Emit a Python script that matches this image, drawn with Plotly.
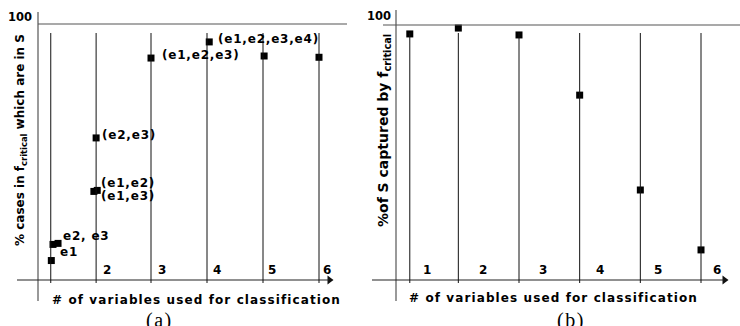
import plotly.graph_objects as go

# ---------------- data ----------------
# panel (a): % cases in f_critical which are in S
a_vars = [1.22, 1.25, 1.34, 1.98, 2.04, 2.02, 3.0, 4.04, 5.02, 6.0]
a_pct = [7.6, 13.9, 14.3, 34.6, 35.0, 55.5, 86.7, 93.0, 87.5, 87.0]
a_labels = ["(e1,e2,e3,e4)", "(e1,e2,e3)", "(e2,e3)", "(e1,e2)", "(e1,e3)", "e2, e3", "e1"]
a_label_pt = [7, 6, 5, 4, 4, 2, 0]
a_grid = [1.21, 2.02, 3, 4, 5, 6]
a_ticks = ["2", "3", "4", "5", "6"]
a_tick_pos = [2.21, 3.2, 4.18, 5.16, 6.14]

# panel (b): % of S captured by f_critical
b_vars = [1.2, 2.0, 3.0, 4.0, 5.0, 6.0]
b_pct = [96.5, 98.8, 96.1, 72.5, 35.3, 11.8]
b_grid = [1.2, 2.0, 3, 4, 5, 6]
b_ticks = ["1", "2", "3", "4", "5", "6"]
b_tick_pos = [1.48, 2.41, 3.4, 4.34, 5.29, 6.26]

W, H = 740, 326
SANS = "DejaVu Sans"
SERIF = "Liberation Serif"


def pxa(px):
    return 3 + (px - 151) / 56.0


def pya(py):
    return (280 - py) / 2.56


def pxb(px):
    return 3 + (px - 519) / 60.67


def pyb(py):
    return (280 - py) / 2.55


def spaced(t, s):
    return '<span style="letter-spacing:%spx">%s</span>' % (s, t)


fig = go.Figure()
shapes = []
ann = []


def panel(xr, yr, fx, fy, grid, xs, ys, yaxis_top, yaxis_x, top_x0, top_x1, axis_x0, arrow_x, tick_pos, ticks):
    # axis frame lines
    shapes.append(dict(type="line", xref=xr, yref=yr, x0=fx(yaxis_x), x1=fx(yaxis_x),
                       y0=fy(yaxis_top), y1=fy(301), line=dict(color="#555", width=1.2)))
    shapes.append(dict(type="line", xref=xr, yref=yr, x0=fx(top_x0), x1=fx(top_x1),
                       y0=100, y1=100, line=dict(color="#555", width=1.2)))
    shapes.append(dict(type="line", xref=xr, yref=yr, x0=fx(axis_x0), x1=fx(arrow_x - 4),
                       y0=0, y1=0, line=dict(color="#222", width=1.2)))
    # grid (vertical) lines
    for g in grid:
        shapes.append(dict(type="line", xref=xr, yref=yr, x0=g, x1=g, y0=fy(33), y1=fy(283),
                           line=dict(color="#111", width=1)))
    # arrow head
    fig.add_trace(go.Scatter(x=[fx(arrow_x - 3.5)], y=[0], mode="markers", xaxis=xr, yaxis=yr,
                             marker=dict(symbol="triangle-right", size=8, color="#111", line=dict(width=0)),
                             hoverinfo="skip", showlegend=False))
    # data squares
    fig.add_trace(go.Scatter(x=xs, y=ys, mode="markers", xaxis=xr, yaxis=yr,
                             marker=dict(symbol="square", size=7, color="black", line=dict(width=0)),
                             showlegend=False))
    # tick labels
    for t, p in zip(ticks, tick_pos):
        ann.append(dict(xref=xr, yref=yr, x=p, y=fy(269.5), text="<b>%s</b>" % t, showarrow=False,
                        xanchor="center", yanchor="middle", font=dict(family=SANS, size=12, color="black")))


panel("x", "y", pxa, pya, a_grid, a_vars, a_pct, 12, 38, 38, 347, 17, 333, a_tick_pos, a_ticks)
panel("x2", "y2", pxb, pyb, b_grid, b_vars, b_pct, 10, 396, 383, 740, 372, 728, b_tick_pos, b_ticks)

# point labels in panel (a)
shifts = [(8, 3), (10, 3), (5, 3), (3, 7), (3, -6), (4, 7), (7.5, 8.5)]
for txt, i, (dx, dy) in zip(a_labels, a_label_pt, shifts):
    ann.append(dict(xref="x", yref="y", x=a_vars[i], y=a_pct[i], text="<b>%s</b>" % spaced(txt, 0.8),
                    showarrow=False, xanchor="left", yanchor="middle", xshift=dx, yshift=dy, borderpad=0,
                    font=dict(family=SANS, size=12, color="black")))


def paper(px, py):
    return px / W, 1 - py / H


# "100" labels
for (px, py) in [(34, 16.5), (393, 16)]:
    x, y = paper(px, py)
    ann.append(dict(xref="paper", yref="paper", x=x, y=y, text="<b>100</b>", showarrow=False,
                    xanchor="right", yanchor="middle", font=dict(family=SANS, size=11.5, color="black")))

# y titles
x, y = paper(21, 140)
ann.append(dict(xref="paper", yref="paper", x=x, y=y, textangle=-90, showarrow=False,
                text="<b>% cases in f<sub>critical</sub> which are in S</b>",
                xanchor="center", yanchor="middle", font=dict(family=SANS, size=12, color="black")))
x, y = paper(384, 131)
ann.append(dict(xref="paper", yref="paper", x=x, y=y, textangle=-90, showarrow=False,
                text="<b>%of S captured by f<sub>critical</sub></b>",
                xanchor="center", yanchor="middle", font=dict(family=SANS, size=14, color="black")))

# x titles
for (px, py) in [(196, 300), (553, 298)]:
    x, y = paper(px, py)
    ann.append(dict(xref="paper", yref="paper", x=x, y=y, showarrow=False,
                    text="<b>%s</b>" % spaced("# of variables used for classification", 1.1),
                    xanchor="center", yanchor="middle", font=dict(family=SANS, size=12, color="black")))

# (a) / (b)
for t, (px, py) in zip(["(a)", "(b)"], [(159, 320), (571, 320)]):
    x, y = paper(px, py)
    ann.append(dict(xref="paper", yref="paper", x=x, y=y, showarrow=False, text=spaced(t, 1.5),
                    xanchor="center", yanchor="middle", font=dict(family=SERIF, size=20, color="black")))

fig.update_layout(
    width=W, height=H, margin=dict(l=0, r=0, t=0, b=0),
    paper_bgcolor="white", plot_bgcolor="white", showlegend=False,
    xaxis=dict(domain=[0, 0.5], range=[pxa(0), pxa(370)], visible=False, fixedrange=True),
    yaxis=dict(domain=[0, 1], range=[pya(326), pya(0)], visible=False, fixedrange=True),
    xaxis2=dict(domain=[0.5, 1], range=[pxb(370), pxb(740)], visible=False, fixedrange=True),
    yaxis2=dict(domain=[0, 1], range=[pyb(326), pyb(0)], visible=False, fixedrange=True, anchor="x2"),
    shapes=shapes, annotations=ann,
)
fig.write_html("out.html", config={"displayModeBar": False},
               post_script="document.body.style.margin='0';document.body.style.overflow='hidden';")
